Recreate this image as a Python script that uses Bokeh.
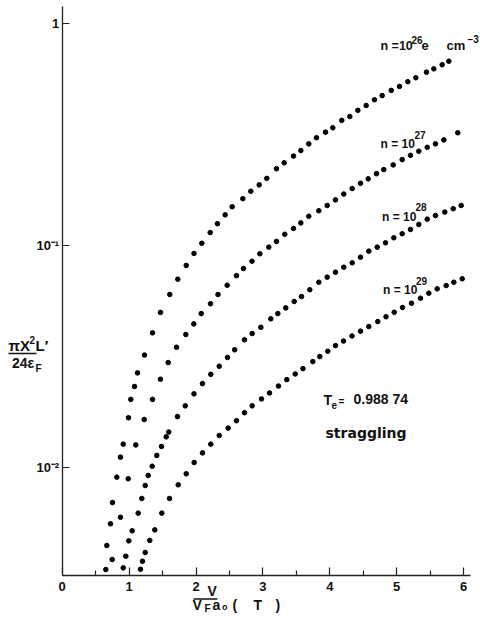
from bokeh.plotting import figure
from bokeh.models import Range1d, FixedTicker, Label, Arrow
from bokeh.embed import file_html
from bokeh.resources import INLINE

# ---- data ----
x_n26 = [0.652, 0.667, 0.722, 0.752, 0.816, 0.871, 0.912, 0.991, 1.025, 1.081, 1.126, 1.230, 1.350, 1.469,
         1.608, 1.728, 1.854, 1.970, 2.087, 2.212, 2.321, 2.436, 2.541, 2.700, 2.819, 2.945, 3.058, 3.203,
         3.318, 3.457, 3.567, 3.686, 3.801, 3.936, 4.045, 4.179, 4.299, 4.419, 4.544, 4.668, 4.783, 4.918,
         5.042, 5.166, 5.286, 5.445, 5.555, 5.680, 5.779]
y_n26 = [0.00346, 0.00444, 0.00556, 0.00693, 0.00902, 0.0111, 0.0127, 0.0167, 0.0202, 0.0231, 0.0266, 0.0320,
         0.0403, 0.0498, 0.0600, 0.0703, 0.0811, 0.0918, 0.102, 0.114, 0.125, 0.137, 0.149, 0.162, 0.175,
         0.187, 0.200, 0.221, 0.235, 0.252, 0.267, 0.286, 0.305, 0.323, 0.338, 0.365, 0.380, 0.405, 0.426,
         0.452, 0.472, 0.498, 0.519, 0.545, 0.568, 0.602, 0.623, 0.650, 0.674]

x_n27 = [0.747, 0.871, 0.987, 1.100, 1.226, 1.350, 1.469, 1.584, 1.709, 1.848, 1.967, 2.078, 2.217, 2.329,
         2.466, 2.605, 2.710, 2.837, 2.954, 3.088, 3.203, 3.327, 3.457, 3.567, 3.686, 3.836, 3.961, 4.085,
         4.209, 4.335, 4.459, 4.574, 4.698, 4.807, 4.948, 5.082, 5.206, 5.330, 5.456, 5.580, 5.704, 5.913]
y_n27 = [0.00384, 0.00595, 0.00887, 0.0126, 0.0164, 0.0202, 0.0249, 0.0296, 0.0347, 0.0396, 0.0442, 0.0492,
         0.0545, 0.0600, 0.0660, 0.0729, 0.0785, 0.0847, 0.0915, 0.0980, 0.104, 0.112, 0.119, 0.126, 0.135,
         0.143, 0.151, 0.160, 0.170, 0.180, 0.190, 0.199, 0.210, 0.219, 0.230, 0.243, 0.254, 0.265, 0.276,
         0.286, 0.298, 0.321]

x_n28 = [0.912, 0.951, 0.996, 1.046, 1.136, 1.190, 1.241, 1.286, 1.345, 1.414, 1.484, 1.555, 1.593, 1.723,
         1.839, 1.970, 2.097, 2.221, 2.347, 2.471, 2.578, 2.725, 2.840, 2.969, 3.118, 3.223, 3.342, 3.468,
         3.577, 3.701, 3.836, 3.961, 4.085, 4.209, 4.335, 4.459, 4.583, 4.709, 4.833, 4.957, 5.082, 5.206,
         5.330, 5.456, 5.580, 5.719, 5.845, 5.964]
y_n28 = [0.00352, 0.00397, 0.00466, 0.00517, 0.00621, 0.00723, 0.00827, 0.00918, 0.0101, 0.0113, 0.0124,
         0.0137, 0.0144, 0.0169, 0.0189, 0.0214, 0.0238, 0.0262, 0.0285, 0.0312, 0.0338, 0.0375, 0.0400,
         0.0427, 0.0466, 0.0492, 0.0522, 0.0558, 0.0587, 0.0630, 0.0681, 0.0718, 0.0756, 0.0796, 0.0833,
         0.0883, 0.0940, 0.0980, 0.1025, 0.108, 0.1126, 0.1177, 0.124, 0.131, 0.136, 0.141, 0.146, 0.151]

x_n29 = [1.170, 1.200, 1.241, 1.309, 1.384, 1.489, 1.604, 1.734, 1.854, 1.973, 2.097, 2.221, 2.347, 2.481,
         2.605, 2.725, 2.840, 2.979, 3.099, 3.233, 3.357, 3.483, 3.599, 3.746, 3.851, 3.970, 4.085, 4.205,
         4.332, 4.459, 4.583, 4.717, 4.840, 4.963, 5.087, 5.221, 5.356, 5.480, 5.605, 5.740, 5.854, 5.979]
y_n29 = [0.00347, 0.00377, 0.00413, 0.00468, 0.00522, 0.00621, 0.00723, 0.00833, 0.00934, 0.0105, 0.0116,
         0.0127, 0.0139, 0.0150, 0.0162, 0.0176, 0.0189, 0.0203, 0.0216, 0.0232, 0.0248, 0.0263, 0.0278,
         0.0299, 0.0315, 0.0333, 0.0353, 0.0370, 0.0390, 0.0410, 0.0430, 0.0453, 0.0476, 0.0499, 0.0524,
         0.0548, 0.0577, 0.0608, 0.0636, 0.0658, 0.0681, 0.0706]

x_ticks = [0, 1, 2, 3, 4, 5, 6]
x_minor = [0.5, 1.5, 2.5, 3.5, 4.5, 5.5]
y_ticks = [0.01, 0.1, 1]
y_tick_labels = {0.01: "10⁻²", 0.1: "10⁻¹", 1: "1"}

# axis extents (data units)
X_AXIS_START, X_AXIS_END = 0.0, 6.11
Y_AXIS_BOTTOM, Y_AXIS_TOP = 0.003251, 1.189

# ---- layout: the plotting frame covers the whole canvas; axes sit at fixed positions ----
W, H = 480, 630
X0_PX, PX_PER_UNIT = 61.7, 66.9          # canvas px of x = 0, px per x unit
Y1_PX, PX_PER_DECADE = 22.7, 222.0       # canvas px of y = 1, px per decade


def dx(px):
    return (px - X0_PX) / PX_PER_UNIT


def dy(py):
    return 10 ** ((Y1_PX - py) / PX_PER_DECADE)


FONT = "Liberation Sans"
WIDE = "DejaVu Sans"
INK = "#111111"
AXC = "#222222"

p = figure(width=W, height=H, y_axis_type="log",
           x_range=Range1d(dx(0), dx(W)), y_range=Range1d(dy(H), dy(0)),
           output_backend="svg", toolbar_location=None,
           min_border_left=0, min_border_right=0, min_border_top=0, min_border_bottom=0)
p.xgrid.visible = False
p.ygrid.visible = False
p.outline_line_color = None
p.background_fill_color = "white"
p.border_fill_color = "white"

for ax in (p.xaxis[0], p.yaxis[0]):
    ax.axis_line_color = AXC
    ax.axis_line_width = 1.3
    ax.major_tick_line_color = AXC
    ax.minor_tick_line_color = AXC
    ax.major_tick_line_width = 1.2
    ax.minor_tick_line_width = 1.2
    ax.major_tick_out = 0
    ax.minor_tick_out = 0
    ax.major_label_text_font = FONT
    ax.major_label_text_font_style = "bold"
    ax.major_label_text_font_size = "13px"
    ax.major_label_text_color = INK

p.xaxis.fixed_location = Y_AXIS_BOTTOM
p.xaxis.bounds = (X_AXIS_START, X_AXIS_END)
p.xaxis.ticker = FixedTicker(ticks=x_ticks, minor_ticks=x_minor)
p.xaxis.major_tick_in = 8
p.xaxis.minor_tick_in = 5
p.xaxis.major_label_standoff = 6

p.yaxis.fixed_location = X_AXIS_START
p.yaxis.bounds = (Y_AXIS_BOTTOM, Y_AXIS_TOP)
p.yaxis.ticker = FixedTicker(ticks=y_ticks, minor_ticks=[])
p.yaxis.major_tick_in = 7
p.yaxis.major_label_standoff = 3
p.yaxis.major_label_overrides = y_tick_labels

for xs, ys in ((x_n26, y_n26), (x_n27, y_n27), (x_n28, y_n28), (x_n29, y_n29)):
    p.scatter(xs, ys, size=4.6, color="black", line_color="black")


def lab(px, py, text, size=13, font=FONT):
    # py is the wanted baseline; the rendered baseline sits about 0.36 em lower
    p.add_layout(Label(x=dx(px), y=dy(py - 0.36 * size), text=text, text_font=font,
                       text_font_style="bold", text_font_size=f"{size}px", text_color=INK,
                       text_baseline="alphabetic", text_align="left"))


def bar(px0, px1, py):
    p.add_layout(Arrow(x_start=dx(px0), y_start=dy(py), x_end=dx(px1), y_end=dy(py),
                       end=None, line_color=INK, line_width=1.5))


# curve labels
lab(380, 50, "n =10", 12.5)
lab(411, 43, "26", 10)
lab(421, 50, "e", 13)
lab(446, 50, "cm", 13)
lab(467, 42, "−3", 10)

lab(380, 147.5, "n = 10", 12)
lab(414, 138.5, "27", 10)
lab(381.5, 220.5, "n = 10", 12)
lab(415, 210, "28", 10)
lab(382.5, 294, "n = 10", 12)
lab(415.5, 284, "29", 10)

# annotation block
lab(323, 405, "T", 14)
lab(331, 408.5, "e", 10)
lab(338, 404.5, "=", 10)
lab(353, 403.5, "0.988 74", 14)
lab(325, 437.5, "straggling", 14, WIDE)

# y-axis label (fraction)
lab(8, 350, "πX", 15)
lab(29, 343.5, "2", 10)
lab(35, 350, "L′", 15)
bar(8, 36, 353)
lab(11.5, 367.5, "24ε", 14)
lab(35, 371.5, "F", 10)

# x-axis label (fraction)
lab(207, 596, "V", 14)
bar(193, 217, 598.5)
lab(192, 609.5, "V", 14)
lab(204, 612, "F", 10)
lab(212, 609.5, "a", 14)
lab(221.5, 609.5, "o", 9)
lab(232, 609.5, "(", 14)
lab(253, 609.5, "T", 14)
lab(275, 609.5, ")", 14)

open("out.html", "w").write(file_html(p, INLINE))
